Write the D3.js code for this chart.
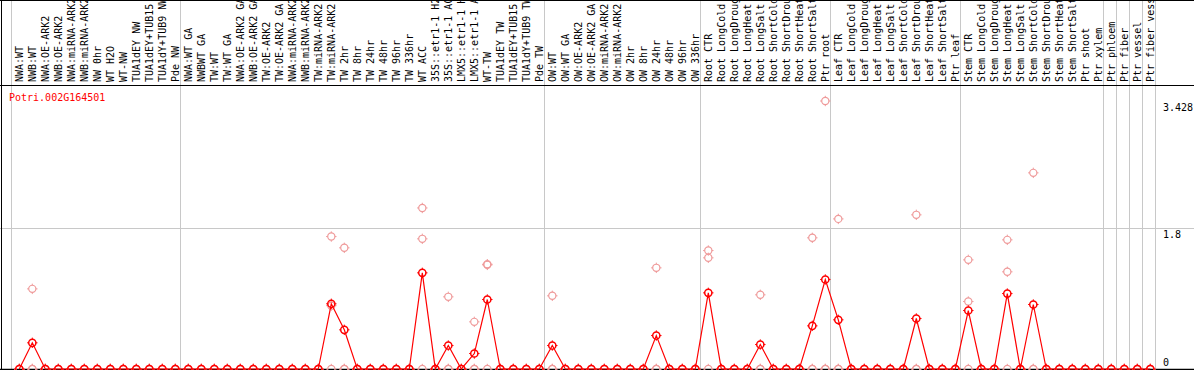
<!DOCTYPE html>
<html lang="en">
<head>
<meta charset="UTF-8">
<script src="https://d3js.org/d3.v7.min.js"></script>
<title>Potri.002G164501</title>
<style>
    body { margin: 0; background: white; }
    svg { display: block; }
    text { font-family: "DejaVu Sans Mono", "Liberation Mono", monospace; font-size: 10px; }
</style>
</head>
<body>
<div id="chart"></div>
<script>
    // sample names, in plot order
    const samples = [
        "NWA:WT", "NWB:WT", "NWA:OE-ARK2", "NWB:OE-ARK2", "NWA:miRNA-ARK2", "NWB:miRNA-ARK2",
        "NW 0hr", "WT H2O", "WT-NW", "TUA1dEY NW", "TUA1dEY+TUB15 NW", "TUA1dY+TUB9 NW", "Pde NW",
        "NWA:WT GA", "NWBWT GA", "TW:WT", "TW:WT GA", "NWA:OE-ARK2 GA", "NWB:OE-ARK2 GA",
        "TW:OE-ARK2", "TW:OE-ARK2 GA", "NWA:miRNA-ARK2", "NWB:miRNA-ARK2", "TW:miRNA-ARK2", "TW:miRNA-ARK2",
        "TW 2hr", "TW 8hr", "TW 24hr", "TW 48hr", "TW 96hr", "TW 336hr", "WT ACC",
        "35S::etr1-1 H2O", "35S::etr1-1 ACC", "LMX5::etr1-1 H2O", "LMX5::etr1-1 ACC",
        "WT-TW", "TUA1dEY TW", "TUA1dEY+TUB15 TW", "TUA1dY+TUB9 TW", "Pde TW",
        "OW:WT", "OW:WT GA", "OW:OE-ARK2", "OW:OE-ARK2 GA", "OW:miRNA-ARK2", "OW:miRNA-ARK2",
        "OW 2hr", "OW 8hr", "OW 24hr", "OW 48hr", "OW 96hr", "OW 336hr",
        "Root CTR", "Root LongCold", "Root LongDrought", "Root LongHeat", "Root LongSalt",
        "Root ShortCold", "Root ShortDrought", "Root ShortHeat", "Root ShortSalt", "Ptr root",
        "Leaf CTR", "Leaf LongCold", "Leaf LongDrought", "Leaf LongHeat", "Leaf LongSalt",
        "Leaf ShortCold", "Leaf ShortDrought", "Leaf ShortHeat", "Leaf ShortSalt", "Ptr leaf",
        "Stem CTR", "Stem LongCold", "Stem LongDrought", "Stem LongHeat", "Stem LongSalt",
        "Stem ShortCold", "Stem ShortDrought", "Stem ShortHeat", "Stem ShortSalt", "Ptr shoot",
        "Ptr xylem", "Ptr phloem", "Ptr fiber", "Ptr vessel", "Ptr fiber vessel"
    ];

    // how many samples in each block between the grey separators
    const groupSizes = [13, 28, 12, 10, 10, 11, 1, 1, 1, 1];

    // mean expression per sample
    const means = [
        0, 0.335, 0, 0, 0, 0, 0, 0, 0, 0, 0, 0, 0,
        0, 0, 0, 0, 0, 0, 0, 0, 0, 0, 0, 0.834, 0.501, 0, 0, 0, 0, 0, 1.23,
        0, 0.30, 0, 0.198, 0.889, 0, 0, 0, 0,
        0.30, 0, 0, 0, 0, 0, 0, 0, 0.428, 0, 0, 0,
        0.974, 0, 0, 0, 0.313, 0, 0, 0, 0.552, 1.145,
        0.629, 0, 0, 0, 0, 0, 0.646, 0, 0, 0,
        0.748, 0, 0, 0.965, 0, 0.825, 0, 0, 0, 0,
        0, 0, 0, 0, 0
    ];

    // individual replicates (only samples with signal listed, others all zero)
    const replicates = {
        1: [1.025, 0, 0],
        24: [1.694, 0.81, 0],
        25: [1.55, 0, 0],
        31: [2.06, 1.665, 0],
        33: [0.923, 0, 0],
        35: [0.603, 0, 0],
        36: [1.332, 1.34, 0],
        41: [0.936, 0, 0],
        49: [1.294, 0, 0],
        53: [1.515, 1.422, 0],
        57: [0.949, 0, 0],
        61: [1.678, 0, 0],
        62: [3.428, 0, 0],
        63: [1.92, 0, 0],
        69: [1.972, 0, 0],
        73: [1.396, 0.863, 0],
        76: [1.652, 1.243, 0],
        78: [2.509, 0, 0]
    };

    const geneName = "Potri.002G164501";
    const yTicks = [0, 1.8, 3.428];
    const yTickLabels = ["0", "1.8", "3.428"];

    const width = 1194, height = 370;
    const plotTop = 85, plotBottom = 369;

    const svg = d3.select("#chart").append("svg")
        .attr("width", width)
        .attr("height", height);

    const x = d3.scaleLinear()
        .domain([0, samples.length - 1])
        .range([19.3, 19.3 + 13 * (samples.length - 1)]);

    const y = d3.scaleLinear()
        .domain([0, 3.428])
        .range([plotBottom, 101]);

    // grey separators between blocks (offset right of the last sample in a block)
    const sepIdx = [-1];
    groupSizes.reduce((acc, n) => { sepIdx.push(acc + n - 1); return acc + n; }, 0);

    svg.selectAll("line.sep")
        .data(sepIdx)
        .enter().append("line")
        .attr("class", "sep")
        .attr("x1", d => Math.round(x(d) + 5) + 0.5)
        .attr("x2", d => Math.round(x(d) + 5) + 0.5)
        .attr("y1", 0).attr("y2", height)
        .attr("stroke", "#c8c8c8").attr("stroke-width", 1);

    // horizontal grid at 1.8
    svg.append("line")
        .attr("x1", 0).attr("x2", width)
        .attr("y1", Math.round(y(1.8)) + 0.5).attr("y2", Math.round(y(1.8)) + 0.5)
        .attr("stroke", "#c8c8c8");

    // frame lines
    svg.append("line").attr("x1", 1.5).attr("x2", 1.5).attr("y1", 0).attr("y2", height).attr("stroke", "black");
    svg.append("line").attr("x1", 0).attr("x2", width).attr("y1", 0.5).attr("y2", 0.5).attr("stroke", "black");
    svg.append("line").attr("x1", 0).attr("x2", width).attr("y1", plotTop + 0.5).attr("y2", plotTop + 0.5).attr("stroke", "black");
    svg.append("line").attr("x1", 0).attr("x2", width).attr("y1", plotBottom + 0.5).attr("y2", plotBottom + 0.5).attr("stroke", "black").attr("stroke-width", 1.5);

    // sample labels, rotated
    svg.selectAll("text.lab")
        .data(samples)
        .enter().append("text")
        .attr("class", "lab")
        .attr("transform", (d, i) => `translate(${x(i) + 3.5},82) rotate(-90)`)
        .attr("fill", "black")
        .text(d => d);

    // right-hand value labels
    svg.selectAll("text.ytick")
        .data(yTicks)
        .enter().append("text")
        .attr("class", "ytick")
        .attr("x", 1163)
        .attr("y", (d, i) => d === 0 ? y(d) - 3 : y(d) + 10)
        .attr("fill", "black")
        .text((d, i) => yTickLabels[i]);

    svg.append("text")
        .attr("x", 9)
        .attr("y", 101)
        .attr("fill", "red")
        .text(geneName);

    // marker: circle with four small ticks
    function marker(g, cx, cy, color, sw) {
        const r = 3.6;
        g.append("circle").attr("cx", cx).attr("cy", cy).attr("r", r)
            .attr("fill", "none").attr("stroke", color).attr("stroke-width", sw);
        [[0, -1], [0, 1], [-1, 0], [1, 0]].forEach(([dx, dy]) => {
            g.append("line")
                .attr("x1", cx + dx * r).attr("y1", cy + dy * r)
                .attr("x2", cx + dx * (r + 1.6)).attr("y2", cy + dy * (r + 1.6))
                .attr("stroke", color).attr("stroke-width", 1);
        });
    }

    const plot = svg.append("g");

    // replicate points
    const repPoints = [];
    samples.forEach((s, i) => {
        const reps = replicates[i] || [0, 0, 0];
        reps.forEach(v => repPoints.push({ i, v }));
    });
    const repG = plot.append("g");
    repPoints.forEach(p => marker(repG, x(p.i), y(p.v), "#ef9a9a", 1.2));

    // mean line
    plot.append("path")
        .datum(means)
        .attr("fill", "none")
        .attr("stroke", "red")
        .attr("stroke-width", 1.2)
        .attr("d", d3.line().x((d, i) => x(i)).y(d => y(d)));

    const meanG = plot.append("g");
    means.forEach((v, i) => marker(meanG, x(i), y(v), "red", 1.5));
</script>
</body>
</html>
